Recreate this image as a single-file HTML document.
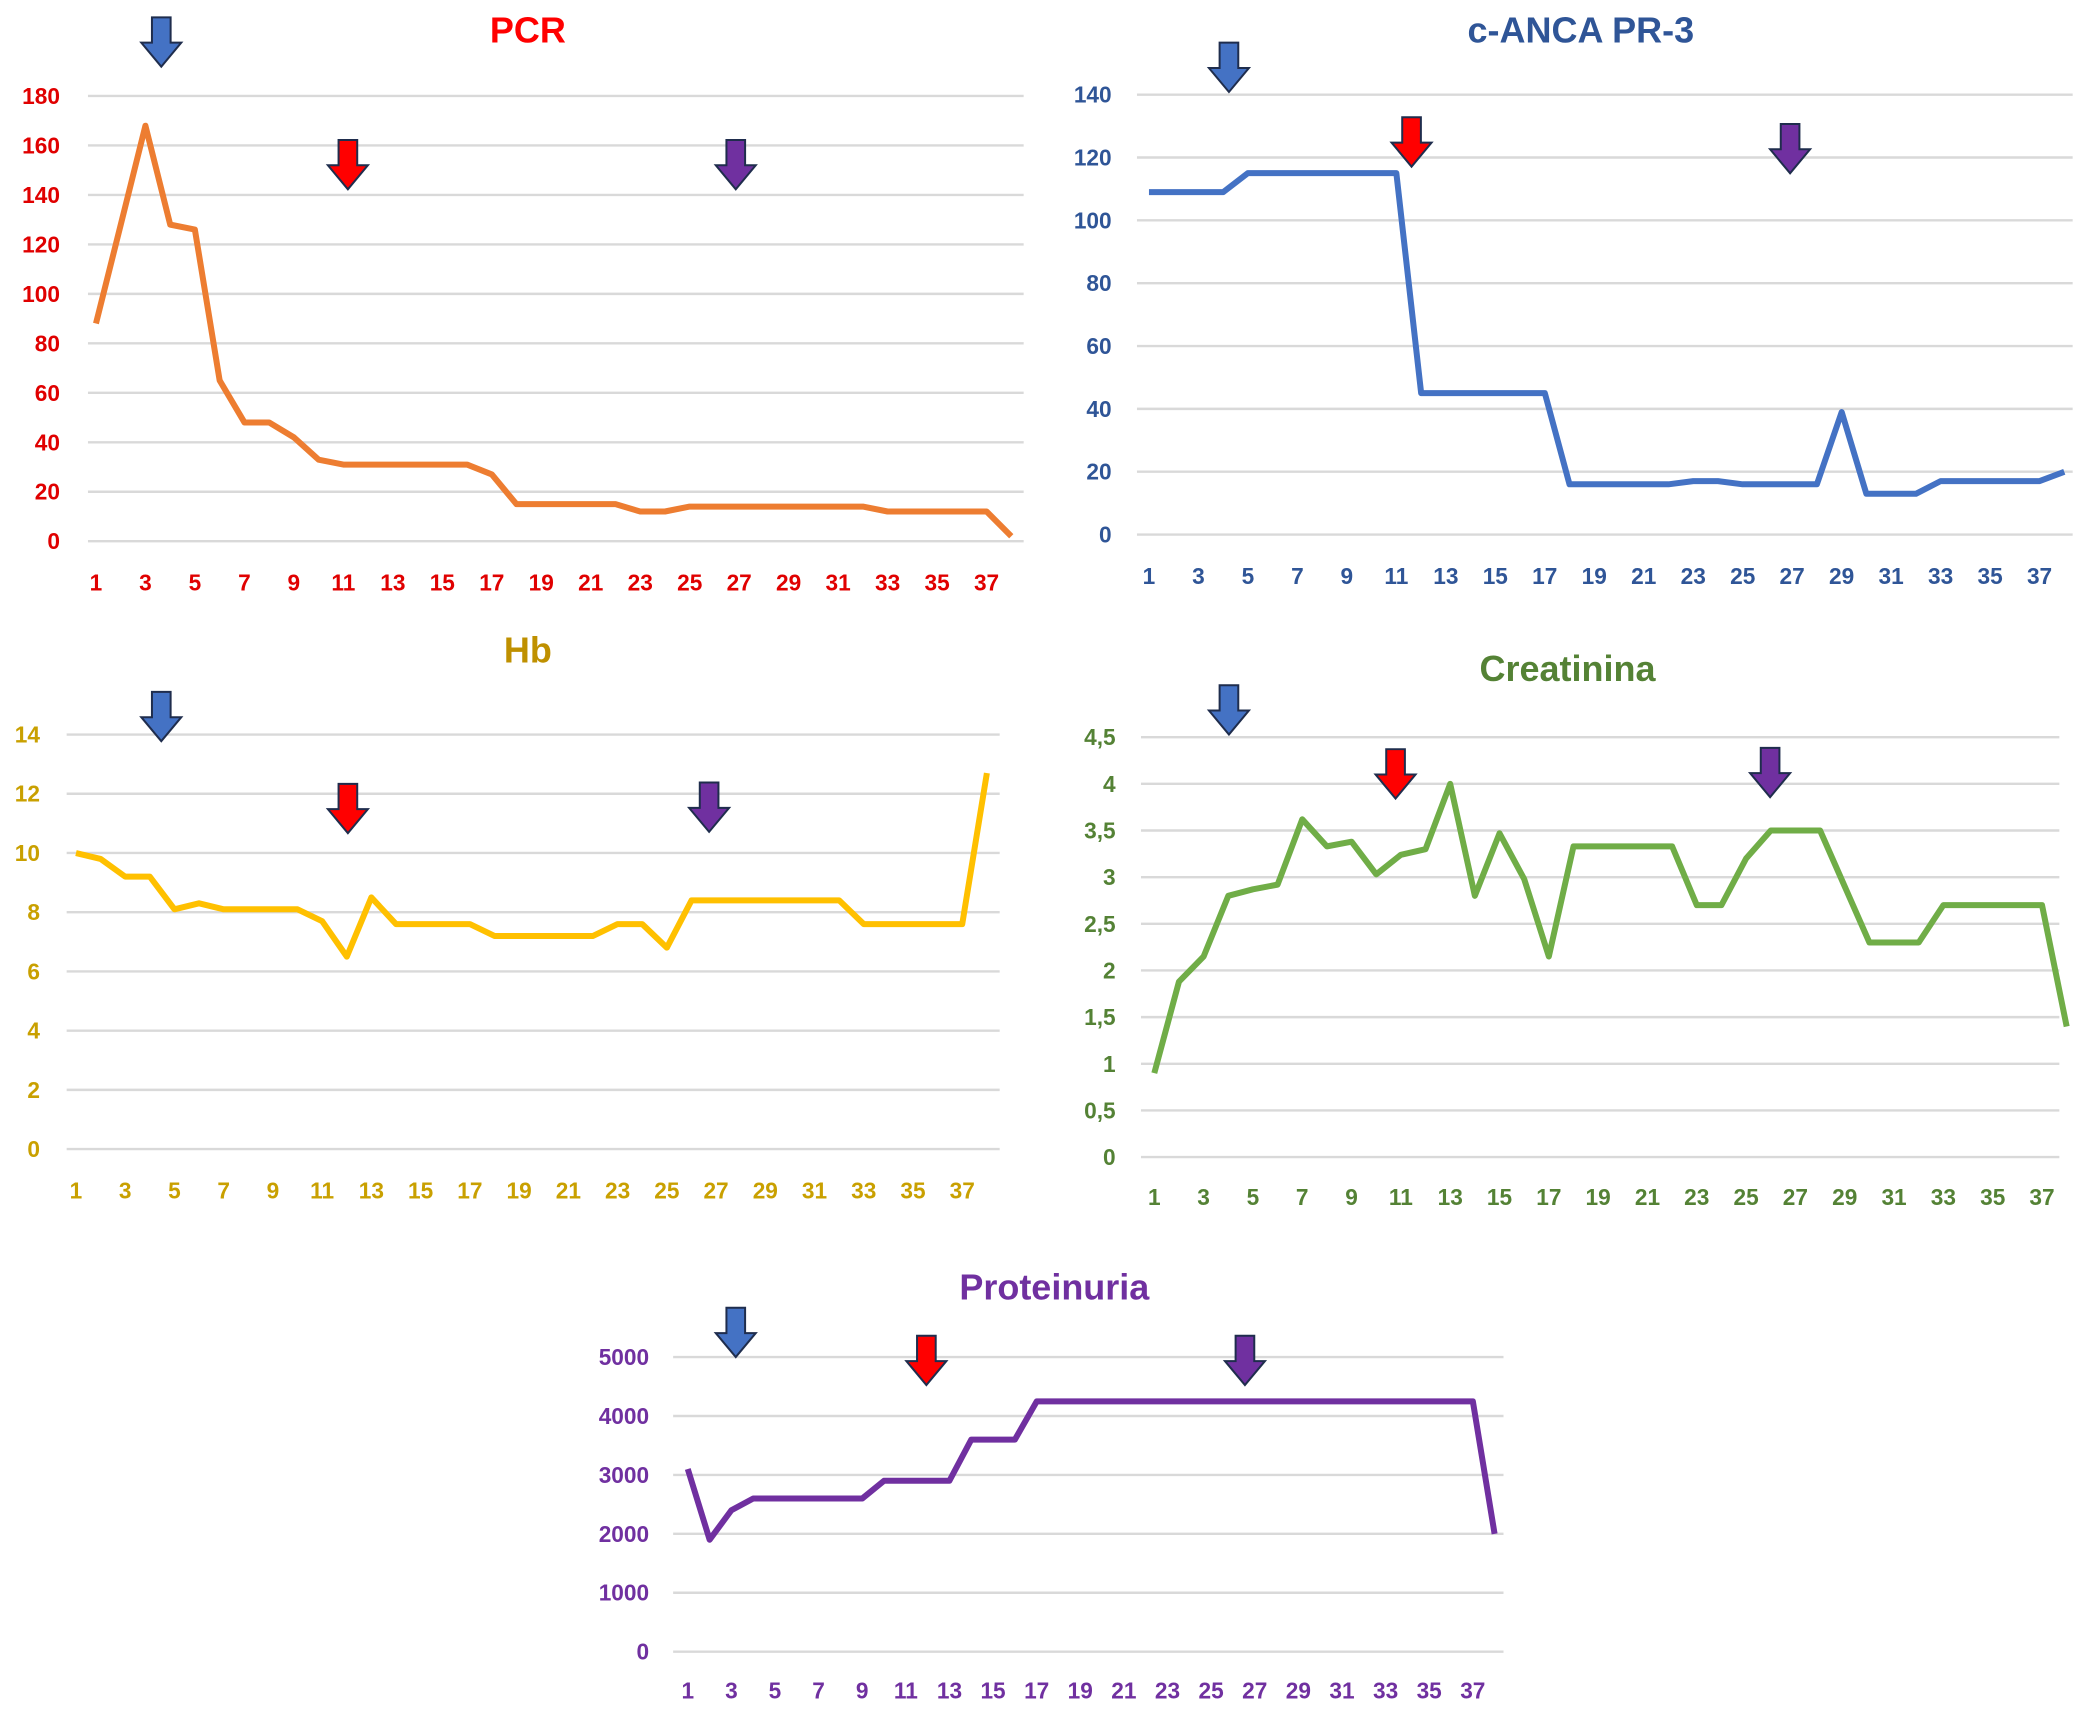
<!DOCTYPE html>
<html><head><meta charset="utf-8"><style>
html,body{margin:0;padding:0;background:#fff;}
svg{display:block;}
text{font-family:"Liberation Sans",sans-serif;font-weight:bold;}
</style></head><body>
<svg id="fig" width="2090" height="1713" viewBox="0 0 1568 1285" preserveAspectRatio="none" xmlns="http://www.w3.org/2000/svg"></svg>
<script>
const categories = Array.from({length:38},(_,i)=>i+1);
const pcrValues = [88,128,168,128,126,65,48,48,42,33,31,31,31,31,31,31,27,15,15,15,15,15,12,12,14,14,14,14,14,14,14,14,12,12,12,12,12,2];
const ancaValues = [109,109,109,109,115,115,115,115,115,115,115,45,45,45,45,45,45,16,16,16,16,16,17,17,16,16,16,16,39,13,13,13,17,17,17,17,17,20];
const hbValues = [10,9.8,9.2,9.2,8.1,8.3,8.1,8.1,8.1,8.1,7.7,6.5,8.5,7.6,7.6,7.6,7.6,7.2,7.2,7.2,7.2,7.2,7.6,7.6,6.8,8.4,8.4,8.4,8.4,8.4,8.4,8.4,7.6,7.6,7.6,7.6,7.6,12.7];
const creatValues = [0.9,1.88,2.15,2.8,2.87,2.92,3.62,3.33,3.38,3.03,3.24,3.3,4.0,2.8,3.47,2.98,2.15,3.33,3.33,3.33,3.33,3.33,2.7,2.7,3.2,3.5,3.5,3.5,2.9,2.3,2.3,2.3,2.7,2.7,2.7,2.7,2.7,1.4];
const protValues = [3100,1900,2400,2600,2600,2600,2600,2600,2600,2900,2900,2900,2900,3600,3600,3600,4250,4250,4250,4250,4250,4250,4250,4250,4250,4250,4250,4250,4250,4250,4250,4250,4250,4250,4250,4250,4250,2000];
const pcrTicks = [0,20,40,60,80,100,120,140,160,180];
const ancaTicks = [0,20,40,60,80,100,120,140];
const hbTicks = [0,2,4,6,8,10,12,14];
const creatTicks = [0,0.5,1,1.5,2,2.5,3,3.5,4,4.5];
const protTicks = [0,1000,2000,3000,4000,5000];

const NS="http://www.w3.org/2000/svg";
const svg=document.getElementById('fig');
function mk(tag,attrs,parent){const e=document.createElementNS(NS,tag);for(const k in attrs)e.setAttribute(k,attrs[k]);(parent||svg).appendChild(e);return e;}

function arrow(g,cx,top,fill){
  const h=37,sw=7,hw=15,sh=19;
  const d=`M${cx-sw},${top} L${cx+sw},${top} L${cx+sw},${top+sh} L${cx+hw},${top+sh} L${cx},${top+h} L${cx-hw},${top+sh} L${cx-sw},${top+sh} Z`;
  const p=mk('path',{d:d,fill:fill,stroke:'#1f2d4d','stroke-width':1.5},g);
  
  
}

function chart(cfg){
  const g=mk('g',{});
  
  
  const t=mk('text',{x:cfg.titleX,y:cfg.titleY,'text-anchor':'middle','font-size':27,fill:cfg.titleColor},g);
  t.textContent=cfg.title;
  
  
  const ymax=cfg.ticks[cfg.ticks.length-1];
  const y=v=>cfg.y0+(cfg.yTop-cfg.y0)*v/ymax;
  const x=i=>cfg.x1+cfg.dx*(i);
  cfg.ticks.forEach(v=>{
    const l=mk('line',{x1:cfg.gx0,x2:cfg.gx1,y1:y(v),y2:y(v),stroke:'#d9d9d9','stroke-width':1.8},g);
    
    
    const tx=mk('text',{x:cfg.labelX,y:y(v)+6,'text-anchor':'end','font-size':17,fill:cfg.tickColor},g);
    tx.textContent=cfg.fmt?cfg.fmt(v):String(v);
    
    
  });
  categories.forEach((c,i)=>{
    if(i%2===0){
      const tx=mk('text',{x:x(i),y:cfg.xLabelY,'text-anchor':'middle','font-size':17,fill:cfg.tickColor},g);
      tx.textContent=String(c);
      
      
    }
  });
  const pts=cfg.values.map((v,i)=>x(i).toFixed(1)+','+y(v).toFixed(1)).join(' ');
  const pl=mk('polyline',{points:pts,fill:'none',stroke:cfg.lineColor,'stroke-width':4.5,'stroke-linejoin':'round'},g);
  
  
  cfg.arrows.forEach(a=>arrow(g,a[0],a[1],a[2]));
}
const B='#4472c4',R='#ff0000',P='#7030a0';
chart({name:'pcr',title:'PCR',titleX:396,titleY:32,titleColor:'#ff0000',tickColor:'#e00000',lineColor:'#ed7d31',
  values:pcrValues,ticks:pcrTicks,y0:406,yTop:72,x1:72,dx:18.56,gx0:66,gx1:768,labelX:45,xLabelY:443,
  arrows:[[121,13,B],[261,105,R],[552,105,P]]});
chart({name:'canca',title:'c-ANCA PR-3',titleX:1186,titleY:32,titleColor:'#2f5597',tickColor:'#2f5597',lineColor:'#4472c4',
  values:ancaValues,ticks:ancaTicks,y0:401,yTop:71,x1:862,dx:18.56,gx0:853,gx1:1555,labelX:834,xLabelY:438,
  arrows:[[922,32,B],[1059,88,R],[1343,93,P]]});
chart({name:'hb',title:'Hb',titleX:396,titleY:497,titleColor:'#bf9000',tickColor:'#c9a000',lineColor:'#ffc000',
  values:hbValues,ticks:hbTicks,y0:862,yTop:551,x1:57,dx:18.47,gx0:50,gx1:750,labelX:30,xLabelY:899,
  arrows:[[121,519,B],[261,588,R],[532,587,P]]});
chart({name:'creatinina',title:'Creatinina',titleX:1176,titleY:511,titleColor:'#548235',tickColor:'#548235',lineColor:'#70ad47',
  values:creatValues,ticks:creatTicks,y0:868,yTop:553,x1:866,dx:18.5,gx0:856,gx1:1545,labelX:837,xLabelY:904,
  fmt:v=>String(v).replace('.',','),
  arrows:[[922,514,B],[1047,562,R],[1328,561,P]]});
chart({name:'proteinuria',title:'Proteinuria',titleX:791,titleY:975,titleColor:'#7030a0',tickColor:'#7030a0',lineColor:'#7030a0',
  values:protValues,ticks:protTicks,y0:1239,yTop:1018,x1:516,dx:16.36,gx0:505,gx1:1128,labelX:487,xLabelY:1274,
  arrows:[[552,981,B],[695,1002,R],[934,1002,P]]});
</script>
</body></html>
